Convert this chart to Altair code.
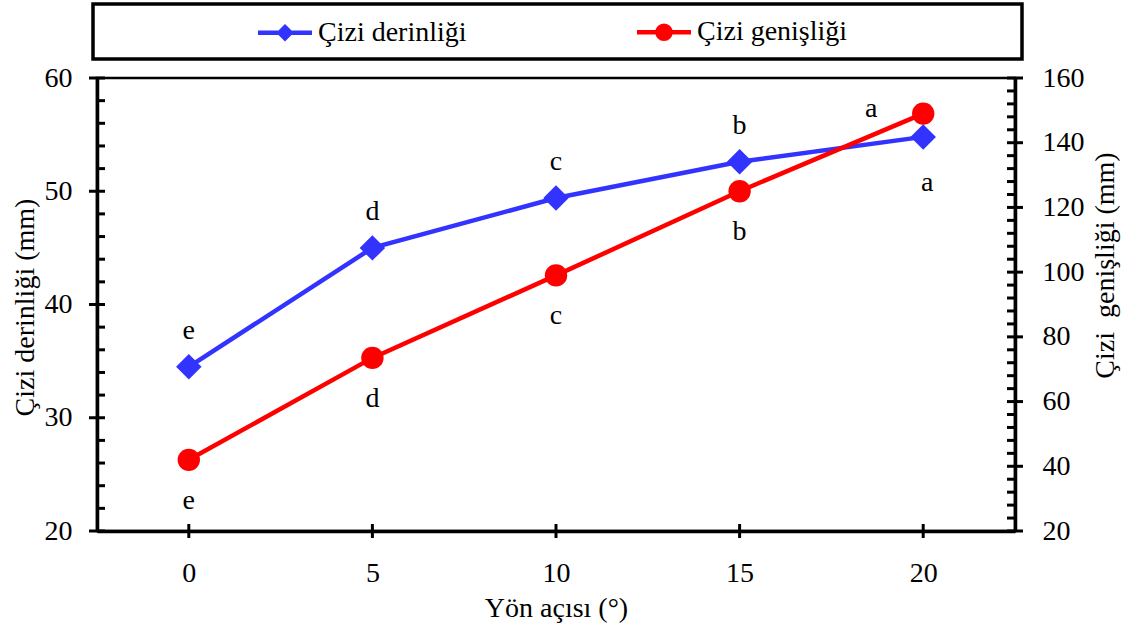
import altair as alt
import pandas as pd

# ---- data -------------------------------------------------------------
angles = [0, 5, 10, 15, 20]                      # Yön açısı (°)
depth = [34.5, 45.0, 49.4, 52.6, 54.8]           # Çizi derinliği (mm)
width_mm = [42.0, 73.5, 99.0, 125.0, 149.0]      # Çizi genişliği (mm)
depth_letters = ["e", "d", "c", "b", "a"]
width_letters = ["e", "d", "c", "b", "a"]

series_names = ["Çizi derinliği", "Çizi genişliği"]
series_colors = ["#3333FF", "#FF0000"]

x_tick_values = [0, 5, 10, 15, 20]
left_major = [20, 30, 40, 50, 60]
left_minor = [v for v in range(22, 60, 2) if v % 10]
right_major = [20, 40, 60, 80, 100, 120, 140, 160]
right_minor = [v for v in range(24, 160, 4) if v % 20]

W, H = 918, 453
FONT = "Liberation Serif"
FS = 28
BLUE, RED = series_colors

depth_df = pd.DataFrame({"angle": angles, "value": depth, "letter": depth_letters})
width_df = pd.DataFrame({"angle": angles, "value": width_mm, "letter": width_letters})

x_scale = alt.Scale(domain=[-2.5, 22.5], nice=False, zero=False)
left_scale = alt.Scale(domain=[20, 60], nice=False, zero=False)
right_scale = alt.Scale(domain=[20, 160], nice=False, zero=False)

# Every layer that shares a scale gets the same axis definition, so the
# merged axis keeps these settings.
x_axis = alt.Axis(
    values=x_tick_values, title="Yön açısı (°)", ticks=False, tickSize=0,
    labelPadding=28, labelFont=FONT, labelFontSize=FS, labelColor="black",
    titleFont=FONT, titleFontSize=FS, titleFontWeight="normal", titleColor="black",
    titleY=85, titleBaseline="alphabetic", domainWidth=3.5, domainColor="black",
    grid=False,
)
left_axis = alt.Axis(
    values=left_major, title="Çizi derinliği (mm)", ticks=False, tickSize=0,
    labelPadding=25, labelFont=FONT, labelFontSize=FS, labelColor="black",
    titleFont=FONT, titleFontSize=FS, titleFontWeight="normal", titleColor="black",
    titleAngle=270, titleX=-64, titleY=229, titleAlign="center",
    titleBaseline="alphabetic", domainWidth=3.5, domainColor="black", grid=False,
)
right_axis = alt.Axis(
    values=right_major, title="Çizi \u00a0genişliği (mm)", orient="right",
    ticks=False, tickSize=0, labelPadding=27, labelFont=FONT, labelFontSize=FS,
    labelColor="black", titleFont=FONT, titleFontSize=FS, titleFontWeight="normal",
    titleColor="black", titleAngle=270, titleX=98, titleY=187, titleAlign="center",
    titleBaseline="alphabetic", domainWidth=3.5, domainColor="black", grid=False,
)


def X(field="angle:Q"):
    return alt.X(field, scale=x_scale, axis=x_axis)


def YL(field="value:Q"):
    return alt.Y(field, scale=left_scale, axis=left_axis)


def YR(field="value:Q"):
    return alt.Y(field, scale=right_scale, axis=right_axis)


# ---- left (depth) group ------------------------------------------------
depth_line = alt.Chart(depth_df).mark_line(color=BLUE, strokeWidth=4.5).encode(x=X(), y=YL())
depth_pts = alt.Chart(depth_df).mark_point(
    shape="diamond", filled=True, size=650, color=BLUE, opacity=1
).encode(x=X(), y=YL())

text_kw = dict(font=FONT, fontSize=FS, color="black", baseline="alphabetic", align="center")
depth_txt_above = alt.Chart(depth_df).mark_text(dy=-28, **text_kw).encode(
    x=X(), y=YL(), text="letter:N"
).transform_filter("datum.angle < 20")
depth_txt_below = alt.Chart(depth_df).mark_text(dy=54, dx=4, **text_kw).encode(
    x=X(), y=YL(), text="letter:N"
).transform_filter("datum.angle >= 20")

tick_style = dict(color="black", strokeWidth=3)
left_major_ticks = alt.Chart(pd.DataFrame({"value": left_major})).mark_rule(**tick_style).encode(
    y=YL(), x=alt.value(-8), x2=alt.value(8)
)
left_minor_ticks = alt.Chart(pd.DataFrame({"value": left_minor})).mark_rule(**tick_style).encode(
    y=YL(), x=alt.value(0), x2=alt.value(8)
)
x_ticks = alt.Chart(pd.DataFrame({"angle": x_tick_values})).mark_rule(**tick_style).encode(
    x=X(), y=alt.value(H - 7), y2=alt.value(H + 7)
)

left_group = alt.layer(
    depth_line, left_major_ticks, left_minor_ticks, x_ticks,
    depth_pts, depth_txt_above, depth_txt_below,
)

# ---- right (width) group -----------------------------------------------
width_line = alt.Chart(width_df).mark_line(color=RED, strokeWidth=4.5).encode(x=X(), y=YR())
width_pts = alt.Chart(width_df).mark_point(
    shape="circle", filled=True, size=500, color=RED, opacity=1
).encode(x=X(), y=YR())
width_txt_below = alt.Chart(width_df).mark_text(dy=49, **text_kw).encode(
    x=X(), y=YR(), text="letter:N"
).transform_filter("datum.angle < 20")
width_txt_above = alt.Chart(width_df).mark_text(dy=3, dx=-52, **text_kw).encode(
    x=X(), y=YR(), text="letter:N"
).transform_filter("datum.angle >= 20")

right_major_ticks = alt.Chart(pd.DataFrame({"value": right_major})).mark_rule(**tick_style).encode(
    y=YR(), x=alt.value(W - 8), x2=alt.value(W + 8)
)
right_minor_ticks = alt.Chart(pd.DataFrame({"value": right_minor})).mark_rule(**tick_style).encode(
    y=YR(), x=alt.value(W - 8), x2=alt.value(W)
)

right_group = alt.layer(
    width_line, right_major_ticks, right_minor_ticks,
    width_pts, width_txt_below, width_txt_above,
)

# ---- legend (line + marker symbols) ------------------------------------
legend_symbols = [
    "M-3,0L3,0M0,-0.62L0.62,0L0,0.62L-0.62,0Z",
    "M-3,0L3,0M0.72,0A0.72,0.72,0,1,1,-0.72,0A0.72,0.72,0,1,1,0.72,0Z",
]
legend_def = alt.Legend(
    title=None, orient="none", direction="horizontal", legendX=174, legendY=-60,
    padding=0, labelOffset=19, columnPadding=161, symbolSize=324,
    symbolStrokeWidth=4.5, labelFont=FONT, labelFontSize=FS, labelColor="black",
    labelLimit=400,
)
series_field = "series:N"
legend_layer = alt.Chart(pd.DataFrame({"series": series_names})).mark_point(
    filled=True, opacity=1, strokeWidth=4.5
).encode(
    color=alt.Color(series_field, scale=alt.Scale(domain=series_names, range=series_colors), legend=legend_def),
    stroke=alt.Stroke(series_field, scale=alt.Scale(domain=series_names, range=series_colors), legend=legend_def),
    shape=alt.Shape(series_field, scale=alt.Scale(domain=series_names, range=legend_symbols), legend=legend_def),
).transform_filter("false")

legend_frame = alt.Chart(alt.Data(values=[{}])).mark_rect(
    fill="white", fillOpacity=0, stroke="black", strokeWidth=3.5
).encode(x=alt.value(-4), x2=alt.value(925), y=alt.value(-74), y2=alt.value(-19))

chart = alt.layer(left_group, right_group, legend_layer, legend_frame).resolve_scale(
    y="independent"
).properties(
    width=W, height=H,
    autosize=alt.AutoSizeParams(type="none"),
    padding={"left": 97, "top": 78, "right": 1138 - 97 - W, "bottom": 630 - 78 - H},
    background="white",
).configure_view(stroke="black", strokeWidth=2.5)

chart.save("out.html", embed_options={"renderer": "svg", "actions": False})
